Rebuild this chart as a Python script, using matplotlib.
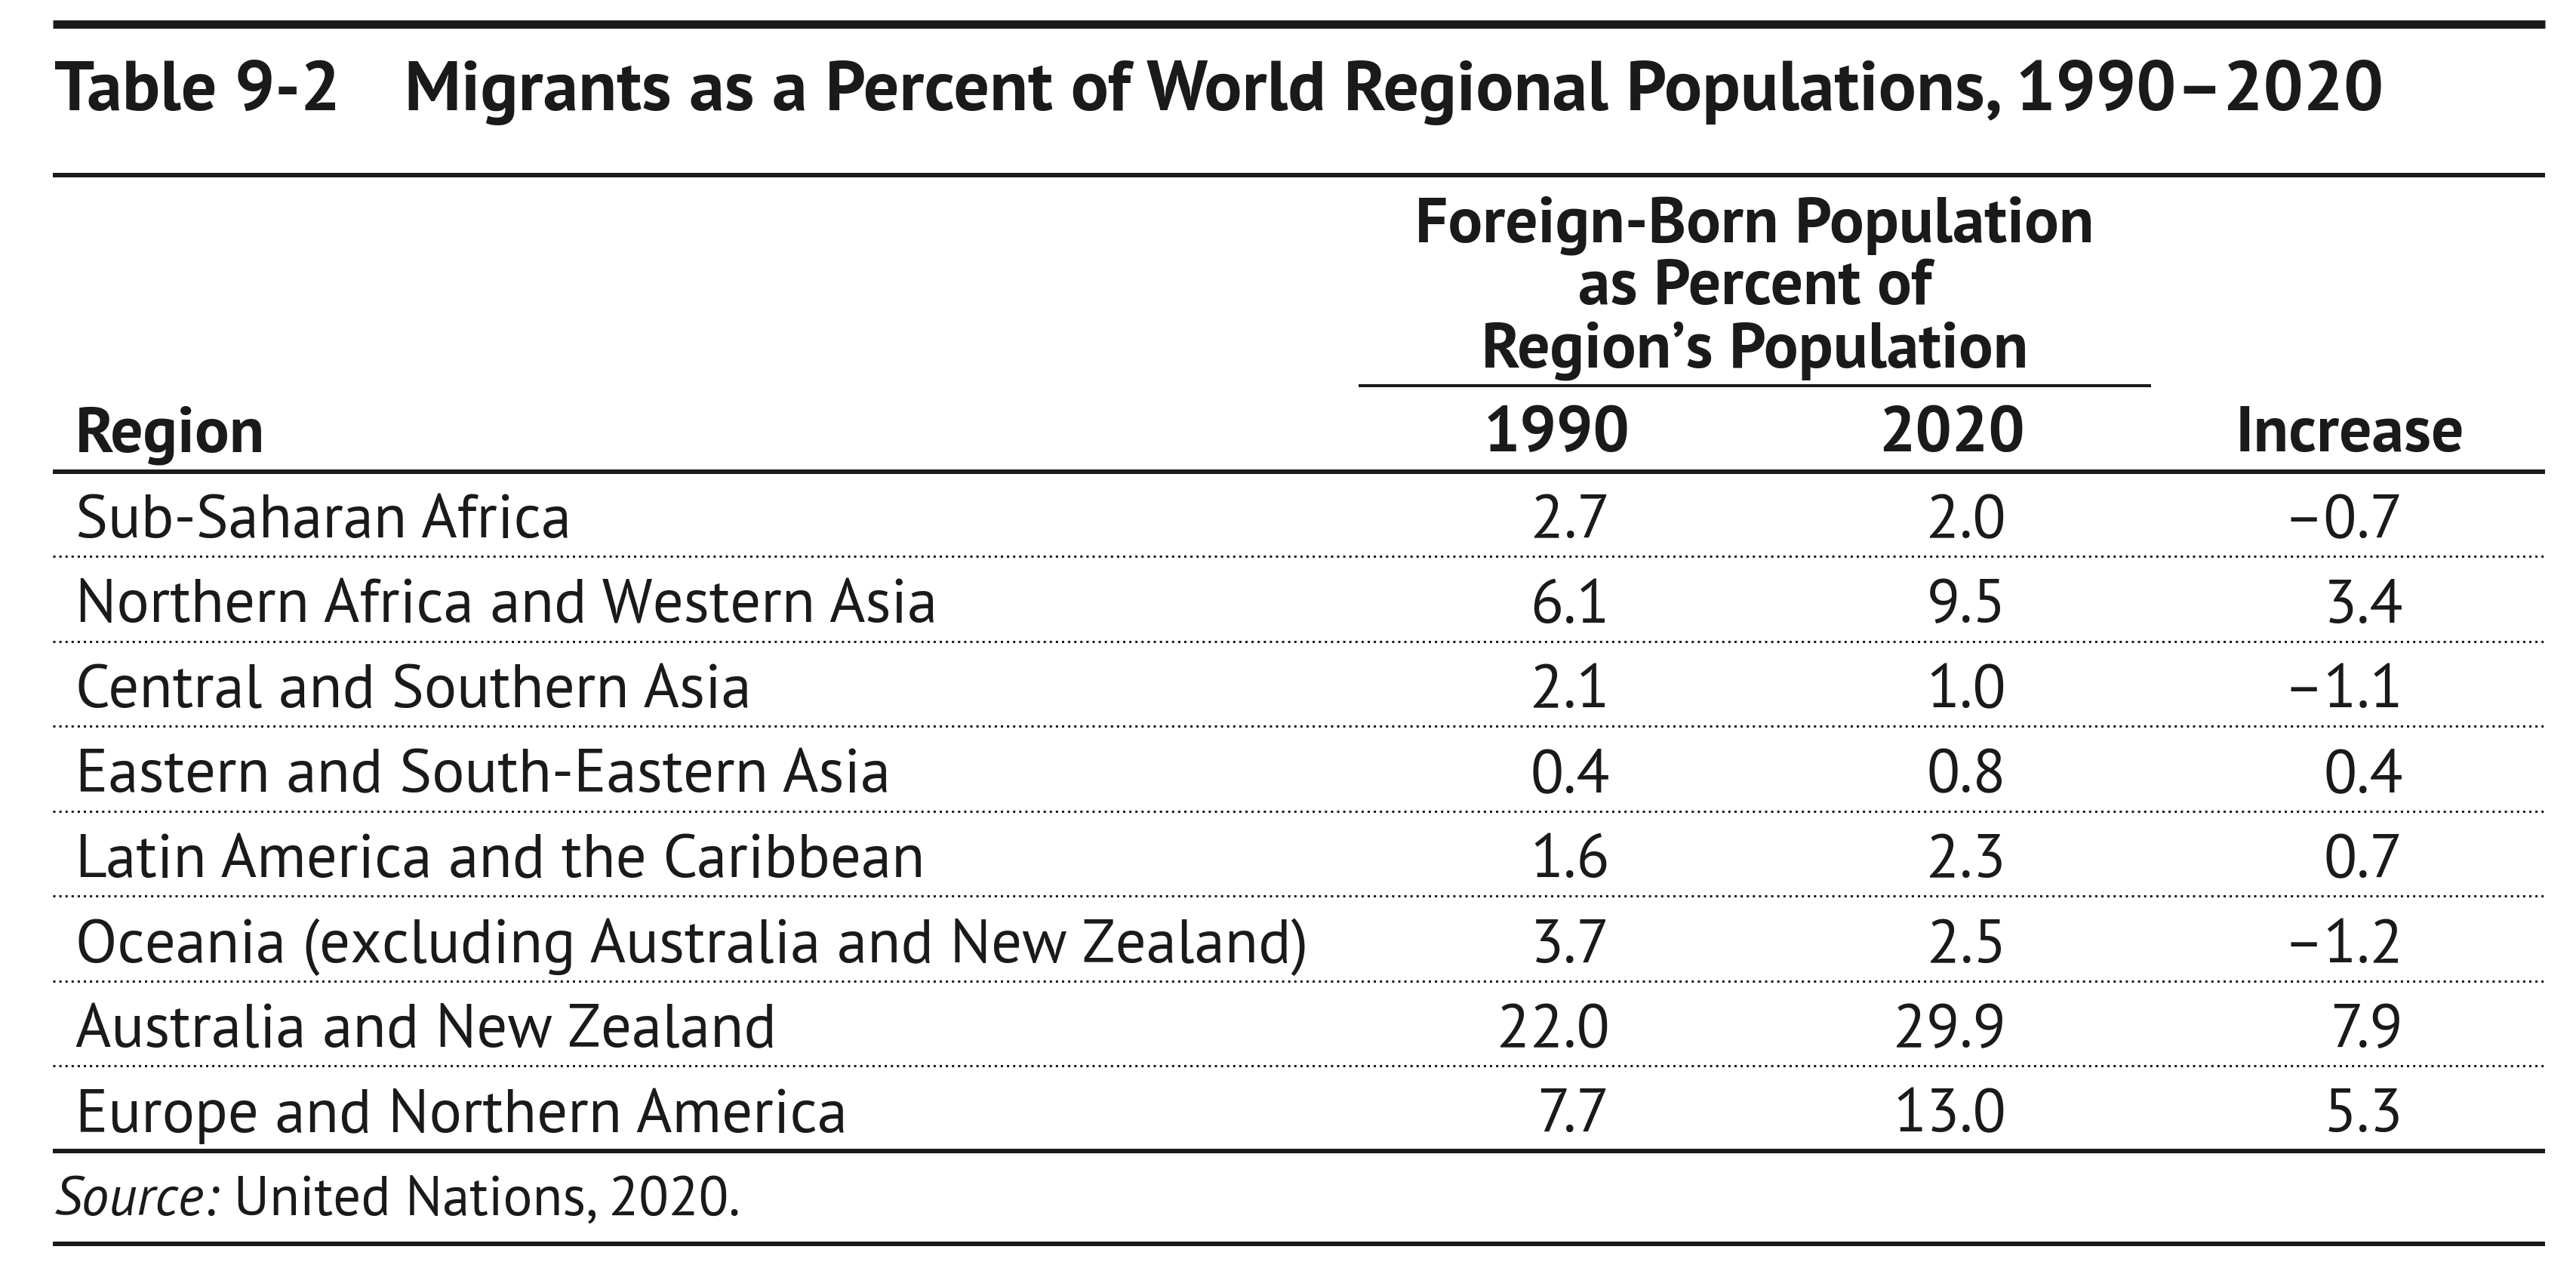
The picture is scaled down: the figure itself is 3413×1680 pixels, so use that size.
import matplotlib
matplotlib.use("Agg")
import matplotlib.pyplot as plt

# ---- data ----
table_label = "Table 9-2"
title = "Migrants as a Percent of World Regional Populations, 1990–2020"
spanner = ["Foreign-Born Population", "as Percent of", "Region’s Population"]
col_headers = ["Region", "1990", "2020", "Increase"]
regions = [
    "Sub-Saharan Africa",
    "Northern Africa and Western Asia",
    "Central and Southern Asia",
    "Eastern and South-Eastern Asia",
    "Latin America and the Caribbean",
    "Oceania (excluding Australia and New Zealand)",
    "Australia and New Zealand",
    "Europe and Northern America",
]
pct_1990 = [2.7, 6.1, 2.1, 0.4, 1.6, 3.7, 22.0, 7.7]
pct_2020 = [2.0, 9.5, 1.0, 0.8, 2.3, 2.5, 29.9, 13.0]
increase = [-0.7, 3.4, -1.1, 0.4, 0.7, -1.2, 7.9, 5.3]
source_label = "Source:"
source_text = " United Nations, 2020."

# ---- styling ----
FONT = ["PT Sans", "DejaVu Sans"]
INK = "#1a1a1a"
W, H = 3413, 1680
DPI = 100
PX = 72.0 / DPI  # points per pixel

fig = plt.figure(figsize=(W / DPI, H / DPI), dpi=DPI)
ax = fig.add_axes([0, 0, 1, 1])
ax.set_xlim(0, W)
ax.set_ylim(H, 0)
ax.axis("off")

X0, X1 = 70, 3372

def rule(y, px, x0=X0, x1=X1, **kw):
    ax.plot([x0, x1], [y, y], color=INK, lw=px * PX, solid_capstyle="butt", **kw)

# rules
rule(31.5, 11)
rule(232, 6)
rule(511, 4, x0=1800, x1=2850)
rule(624.5, 6)
rule(1525, 6)
rule(1648, 6)

# title
ax.text(72, 146, table_label, fontsize=67.5, family=FONT, weight="bold",
        color=INK, ha="left", va="baseline")
ax.text(536, 146, title, fontsize=67.5, family=FONT, weight="bold",
        color=INK, ha="left", va="baseline")

# spanner header
HDR = 61.5
for i, line in enumerate(spanner):
    ax.text(2325, 320 + 83.5 * i, line, fontsize=HDR, family=FONT, weight="bold",
            color=INK, ha="center", va="baseline")

# column headers
hdr_y = 598
ax.text(100, hdr_y, col_headers[0], fontsize=HDR, family=FONT, weight="bold",
        color=INK, ha="left", va="baseline")
for name, cx in zip(col_headers[1:], [2063, 2586, 3113]):
    ax.text(cx, hdr_y, name, fontsize=HDR, family=FONT, weight="bold",
            color=INK, ha="center", va="baseline")

# body rows
row0, step = 712, 112.5
col_right = [2133, 2658, 3184]
BODY = 58.2

def fmt(v):
    s = f"{abs(v):.1f}"
    return ("–" + s) if v < 0 else s

for i, reg in enumerate(regions):
    y = row0 + step * i
    ax.text(100, y, reg, fontsize=BODY, family=FONT, color=INK,
            ha="left", va="baseline")
    for vals, xr in zip([pct_1990, pct_2020, increase], col_right):
        ax.text(xr, y, fmt(vals[i]), fontsize=BODY, family=FONT, color=INK,
                ha="right", va="baseline")
    if i < len(regions) - 1:
        yd = row0 + 25 + step * i
        ax.plot([X0, X1], [yd, yd], color=INK, lw=3 * PX,
                linestyle=(0, (1, 1.7)), dash_capstyle="butt")

# source note
fig.canvas.draw()
r = fig.canvas.get_renderer()
t = ax.text(72, 1610, source_label, fontsize=52.5, family=FONT, style="italic",
            color=INK, ha="left", va="baseline")
bb = t.get_window_extent(r)
ax.text(72 + bb.width, 1610, source_text, fontsize=52.5, family=FONT,
        color=INK, ha="left", va="baseline")

fig.savefig("out.png", dpi=DPI)
